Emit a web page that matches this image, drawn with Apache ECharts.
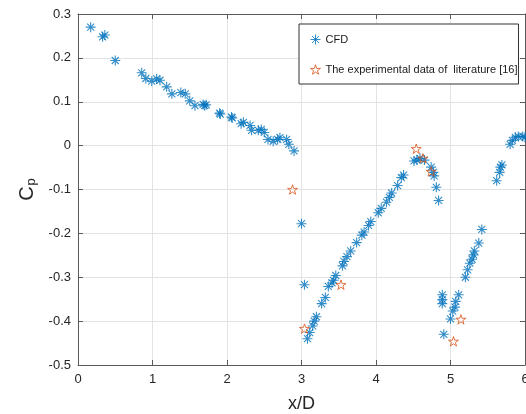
<!DOCTYPE html>
<html>
<head>
<meta charset="utf-8">
<script src="https://cdn.jsdelivr.net/npm/echarts@6/dist/echarts.min.js"></script>
<style>html,body{margin:0;padding:0;background:#fff}#c{width:526px;height:414px}</style>
</head>
<body>
<div id="c"></div>
<script>
// CFD results (x/D, Cp)
const cfdX = [0.17,0.33,0.36,0.50,0.855,0.91,0.99,1.056,1.10,1.19,1.26,1.38,1.44,1.50,1.57,1.68,1.70,1.72,1.90,1.91,2.06,2.07,2.19,2.22,2.31,2.33,2.42,2.46,2.50,2.55,2.62,2.68,2.71,2.80,2.83,2.90,
  3.00,3.04,3.08,3.11,3.15,3.17,3.20,3.27,3.32,3.36,3.41,3.43,3.46,3.55,3.57,3.61,3.66,3.74,3.81,3.84,3.90,3.93,4.03,4.07,4.14,4.18,4.21,4.29,4.34,4.37,
  4.51,4.55,4.59,4.65,4.74,4.77,4.78,4.81,4.84,
  4.89,4.89,4.89,4.91,5.00,5.03,5.06,5.07,5.11,5.20,5.23,5.26,5.29,5.31,5.32,5.38,5.42,
  5.62,5.66,5.67,5.69,5.80,5.83,5.87,5.91,5.97,6.00];
const cfdY = [0.270,0.248,0.252,0.194,0.166,0.153,0.147,0.152,0.149,0.134,0.118,0.121,0.118,0.102,0.091,0.094,0.091,0.093,0.074,0.072,0.065,0.063,0.050,0.053,0.046,0.035,0.035,0.037,0.030,0.014,0.010,0.014,0.018,0.014,0.003,-0.012,
  -0.178,-0.317,-0.440,-0.426,-0.411,-0.400,-0.390,-0.360,-0.346,-0.321,-0.313,-0.307,-0.296,-0.274,-0.264,-0.253,-0.240,-0.221,-0.204,-0.197,-0.182,-0.173,-0.153,-0.143,-0.129,-0.118,-0.108,-0.091,-0.073,-0.067,
  -0.035,-0.033,-0.029,-0.033,-0.049,-0.061,-0.069,-0.095,-0.125,
  -0.340,-0.351,-0.360,-0.430,-0.395,-0.377,-0.368,-0.355,-0.340,-0.300,-0.283,-0.268,-0.259,-0.249,-0.240,-0.222,-0.191,
  -0.080,-0.061,-0.049,-0.044,0.003,0.012,0.019,0.021,0.021,0.019];
// Experimental data of literature [16]
const expX = [2.88,3.04,3.53,4.54,4.63,4.74,5.04,5.14];
const expY = [-0.100,-0.417,-0.317,-0.007,-0.029,-0.059,-0.446,-0.396];

const xTicks = {min:0, max:6, interval:1};
const yTicks = {min:-0.5, max:0.3, interval:0.1};

const asterisk = 'path://M0,-1L0,1M-1,0L1,0M-0.7,-0.7L0.7,0.7M-0.7,0.7L0.7,-0.7';
const star = 'path://M0,-1L0.2245,-0.309L0.951,-0.309L0.363,0.118L0.588,0.809L0,0.382L-0.588,0.809L-0.363,0.118L-0.951,-0.309L-0.2245,-0.309Z';
const blue = '#0072BD', orange = '#D95319';
const cfdName = 'CFD', expName = 'The experimental data of  literature [16]';

const axisColor = '#5a5a5a';
const font = 'Liberation Sans, Arial, sans-serif';
const chart = echarts.init(document.getElementById('c'), null, {renderer:'canvas'});
chart.setOption({
  animation:false,
  grid:{left:78, right:1, top:14, bottom:49, containLabel:false, outerBoundsMode:'none'},
  legend:{
    orient:'vertical', left:299, top:24,
    padding:[10,1,9,11], itemGap:19,
    itemWidth:10, itemHeight:10,
    borderColor:'#333', borderWidth:1, backgroundColor:'#fff',
    textStyle:{fontFamily:font, fontSize:11, color:'#1a1a1a'},
    data:[
      {name:cfdName, icon:asterisk, itemStyle:{color:'rgba(0,0,0,0)', borderColor:blue, borderWidth:1}},
      {name:expName, icon:star, itemStyle:{color:'rgba(0,0,0,0)', borderColor:orange, borderWidth:1}}
    ]
  },
  xAxis:[{
    type:'value', min:xTicks.min, max:xTicks.max, interval:xTicks.interval,
    name:'x/D', nameLocation:'middle', nameGap:30,
    nameTextStyle:{fontFamily:font, fontSize:18, color:'#262626'},
    axisLine:{show:true, onZero:false, lineStyle:{color:axisColor}},
    axisTick:{show:true, inside:true, length:5, lineStyle:{color:axisColor}},
    axisLabel:{fontFamily:font, fontSize:13, color:'#262626', margin:8},
    splitLine:{show:true, lineStyle:{color:'#e3e3e3'}}
  },{
    type:'value', position:'top', min:xTicks.min, max:xTicks.max, interval:xTicks.interval,
    axisLine:{show:true, onZero:false, lineStyle:{color:axisColor}},
    axisTick:{show:true, inside:true, length:5, lineStyle:{color:axisColor}},
    axisLabel:{show:false}, splitLine:{show:false}
  }],
  yAxis:[{
    type:'value', min:yTicks.min, max:yTicks.max, interval:yTicks.interval,
    name:'{a|C}{b|p}', nameLocation:'middle', nameGap:39, nameRotate:90,
    nameTextStyle:{fontFamily:font, color:'#262626',
      rich:{a:{fontFamily:font, fontSize:20, color:'#262626', lineHeight:24, verticalAlign:'bottom'},
            b:{fontFamily:font, fontSize:13, color:'#262626', lineHeight:14, verticalAlign:'bottom', padding:[0,0,0,1]}}},
    axisLine:{show:true, onZero:false, lineStyle:{color:axisColor}},
    axisTick:{show:true, inside:true, length:5, lineStyle:{color:axisColor}},
    axisLabel:{fontFamily:font, fontSize:13, color:'#262626', margin:7},
    splitLine:{show:true, lineStyle:{color:'#e3e3e3'}}
  },{
    type:'value', position:'right', min:yTicks.min, max:yTicks.max, interval:yTicks.interval,
    axisLine:{show:true, onZero:false, lineStyle:{color:axisColor}},
    axisTick:{show:true, inside:true, length:5, lineStyle:{color:axisColor}},
    axisLabel:{show:false}, splitLine:{show:false}
  }],
  series:[{
    name:cfdName, type:'scatter', xAxisIndex:0, yAxisIndex:0,
    symbol:asterisk, symbolSize:10,
    itemStyle:{color:'rgba(0,0,0,0)', borderColor:blue, borderWidth:1.1},
    data:cfdX.map((x,i)=>[x,cfdY[i]])
  },{
    name:expName, type:'scatter', xAxisIndex:0, yAxisIndex:0,
    symbol:star, symbolSize:10, symbolKeepAspect:true,
    itemStyle:{color:'rgba(0,0,0,0)', borderColor:orange, borderWidth:1},
    data:expX.map((x,i)=>[x,expY[i]])
  }]
});
</script>
</body>
</html>
